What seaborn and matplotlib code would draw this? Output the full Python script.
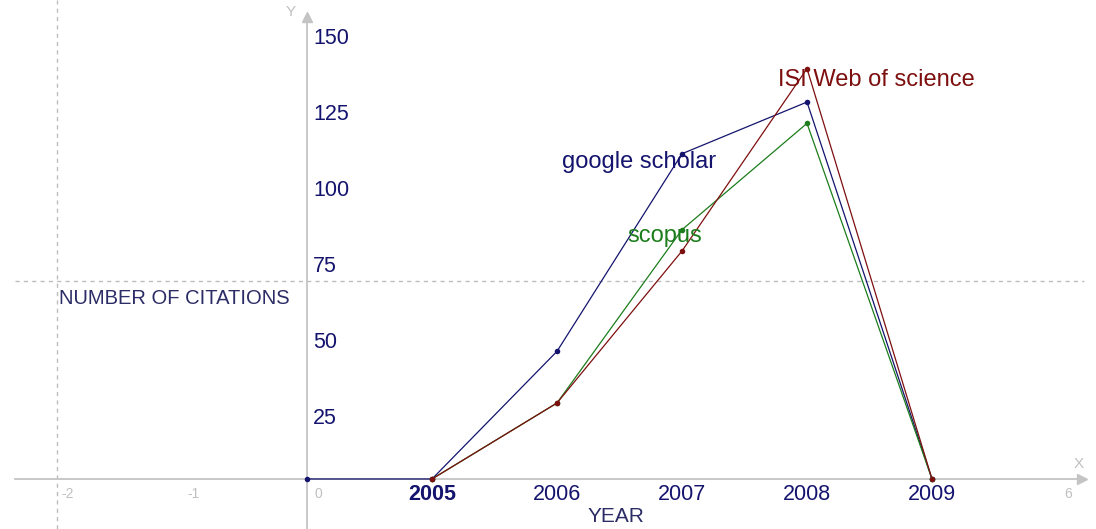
import matplotlib
matplotlib.use("Agg")
import matplotlib.pyplot as plt
import pandas as pd
import seaborn as sns

# citations per year
google_years = [2004, 2005, 2006, 2007, 2008, 2009]
google = [0, 0, 42, 107, 124, 0]
years = [2005, 2006, 2007, 2008, 2009]
scopus = [0, 25, 82, 117, 0]
isi = [0, 25, 75, 135, 0]

series_names = ["google scholar", "scopus", "ISI Web of science"]
series_colors = ["#14146e", "#1c7d1c", "#7d0f0f"]

y_labels = [25, 50, 75, 100, 125, 150]
year_labels = ["2005", "2006", "2007", "2008", "2009"]
grey_labels = ["-2", "-1", "0", "6"]

rows = []
for y, v in zip(google_years, google):
    rows.append(("google scholar", y - 2004, v))
for y, v in zip(years, scopus):
    rows.append(("scopus", y - 2004, v))
for y, v in zip(years, isi):
    rows.append(("ISI Web of science", y - 2004, v))
df = pd.DataFrame(rows, columns=["source", "x", "citations"])

sns.set_style("white")
plt.rcParams["font.family"] = ["Liberation Sans", "DejaVu Sans"]

fig = plt.figure(figsize=(10.96, 5.29), dpi=100)
ax = fig.add_axes([0, 0, 1, 1])

axis_col = "#c4c4c4"
grid_col = "#bdbdbd"

# grid lines
ax.axvline(-2, color=grid_col, lw=1, ls=(0, (3, 3)), zorder=0)
ax.hlines(65, -2.34, 6.22, color=grid_col, lw=1, ls=(0, (3, 3)), zorder=0)

sns.lineplot(data=df, x="x", y="citations", hue="source", hue_order=series_names,
             palette=series_colors, marker="o", markersize=4, markeredgewidth=0,
             linewidth=0.9, legend=False, sort=False, ax=ax, zorder=3)

ax.set_xlim(-2.456, 6.312)
ax.set_ylim(-16.45, 157.57)

# axes through the origin
for s in ["top", "right"]:
    ax.spines[s].set_visible(False)
ax.spines["bottom"].set_position(("data", 0))
ax.spines["left"].set_position(("data", 0))
ax.spines["bottom"].set_bounds(-2.34, 6.2)
ax.spines["left"].set_bounds(-16.45, 152)
for s in ["bottom", "left"]:
    ax.spines[s].set_color(axis_col)
    ax.spines[s].set_linewidth(1.3)
ax.plot(6.2, 0, ">", color=axis_col, markersize=7, clip_on=False, zorder=2)
ax.plot(0, 152, "^", color=axis_col, markersize=7, clip_on=False, zorder=2)

ax.set_xticks(range(-2, 7))
ax.set_yticks(y_labels)
ax.tick_params(axis="both", direction="in", length=4, width=1, color=axis_col,
               labelbottom=False, labelleft=False)
ax.set_xlabel("")
ax.set_ylabel("")

# y values written next to the axis
for v in y_labels:
    ax.annotate(str(v), (0.05, v), xytext=(0, -11.5), textcoords="offset points",
                ha="left", va="center", fontsize=15.5, color="#14146e")

# year labels under the axis
for i, lab in enumerate(year_labels):
    ax.annotate(lab, (i + 1, 0), xytext=(0, -11), textcoords="offset points",
                ha="center", va="center", fontsize=15.5, color="#14146e",
                fontweight="bold" if i == 0 else "normal")

for lab in grey_labels:
    ax.annotate(lab, (int(lab), 0), xytext=(8, -11), textcoords="offset points",
                ha="center", va="center", fontsize=10, color="#c0c0c0")

ax.text(6.17, 4.9, "X", fontsize=11, color="#c0c0c0", ha="center", va="center")
ax.text(-0.13, 153.5, "Y", fontsize=11, color="#c0c0c0", ha="center", va="center")

ax.text(-1.98, 59.5, "NUMBER OF CITATIONS", fontsize=14.5, color="#2c2c66",
        ha="left", va="center")
ax.text(2.47, -12.5, "YEAR", fontsize=15, color="#2c2c66", ha="center", va="center")

# series labels
ax.text(2.04, 104.3, "google scholar", fontsize=17, color="#14146e", ha="left", va="center")
ax.text(2.56, 79.9, "scopus", fontsize=17, color="#1c7d1c", ha="left", va="center")
ax.text(3.77, 131.2, "ISI Web of science", fontsize=17, color="#7d0f0f", ha="left", va="center")

fig.savefig("out.png", dpi=100, facecolor="white")
